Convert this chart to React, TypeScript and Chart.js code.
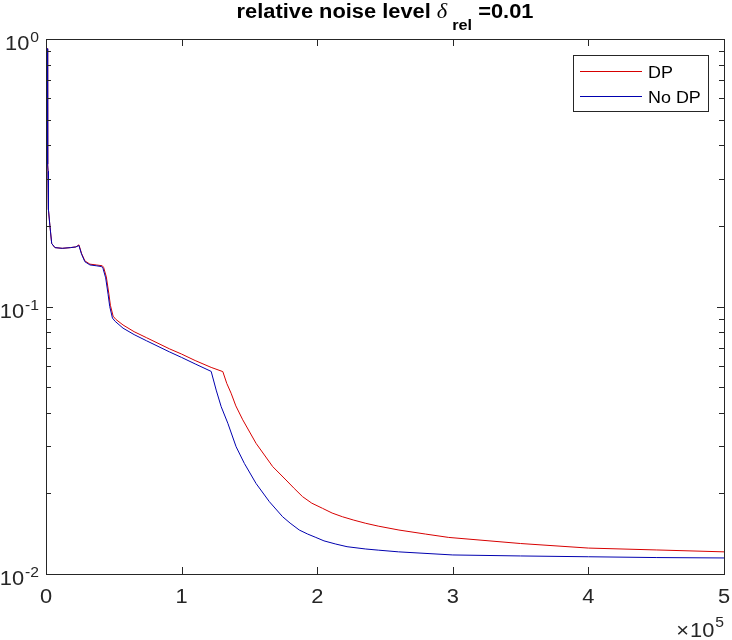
import { useEffect, useRef } from 'react';
import { Chart, registerables } from 'chart.js';

Chart.register(...registerables);

// ---- data ----
const seriesLabels = ['DP', 'No DP'];

const dpIter = [1100, 1200, 1500, 1700, 1900, 2900, 4200, 6600, 12000, 18000, 22000, 24300, 26200, 28700, 32400, 37000, 41500, 42500, 44500, 46300, 47500, 49500, 51500, 56800, 65000, 74000, 91200, 100000, 110000, 121800, 130400, 133300, 136500, 140000, 145100, 154900, 167200, 177000, 183000, 189200, 196000, 203900, 211000, 218600, 227000, 235800, 245000, 260300, 280000, 297000, 350000, 400000, 450000, 500000];
const dpErr = [0.92, 0.34, 0.32, 0.3, 0.23, 0.2, 0.172, 0.166, 0.165, 0.166, 0.167, 0.17, 0.158, 0.148, 0.144, 0.143, 0.142, 0.14, 0.129, 0.112, 0.101, 0.092, 0.0895, 0.0853, 0.0805, 0.0765, 0.0694, 0.0664, 0.0628, 0.0592, 0.0571, 0.0516, 0.0474, 0.0425, 0.0377, 0.0308, 0.0252, 0.02246, 0.0209, 0.01946, 0.0184, 0.0176, 0.0169, 0.01637, 0.0159, 0.01547, 0.0151, 0.0146, 0.0141, 0.0137, 0.013, 0.0125, 0.0123, 0.0121];

const noDpIter = [1100, 1200, 1500, 1700, 1900, 2900, 4200, 6600, 12000, 18000, 22000, 24300, 26200, 28700, 32400, 37000, 41000, 42000, 44000, 45800, 47000, 49000, 51000, 56800, 65000, 74000, 91200, 100000, 110000, 121800, 125500, 129200, 134100, 140200, 146300, 154900, 164700, 174500, 180000, 186800, 193000, 199000, 205000, 213700, 222000, 235800, 245000, 260000, 300000, 350000, 400000, 450000, 500000];
const noDpErr = [0.92, 0.34, 0.32, 0.3, 0.23, 0.2, 0.172, 0.166, 0.165, 0.166, 0.167, 0.169, 0.157, 0.147, 0.143, 0.142, 0.141, 0.139, 0.128, 0.111, 0.1, 0.0905, 0.088, 0.083, 0.0785, 0.0745, 0.0676, 0.0645, 0.061, 0.0572, 0.0487, 0.0422, 0.0366, 0.0299, 0.0259, 0.0218, 0.01864, 0.01637, 0.0155, 0.0146, 0.0141, 0.0137, 0.0133, 0.01294, 0.01265, 0.0124, 0.01228, 0.0121, 0.01178, 0.01168, 0.0116, 0.01152, 0.01148];

const xTicks = [0, 100000, 200000, 300000, 400000, 500000];
const xTickLabels = ['0', '1', '2', '3', '4', '5'];
const yMajorTicks = [1, 0.1, 0.01];
const yMajorExp = ['0', '-1', '-2'];
const yMinorTicks = [0.02, 0.03, 0.04, 0.05, 0.06, 0.07, 0.08, 0.09, 0.2, 0.3, 0.4, 0.5, 0.6, 0.7, 0.8, 0.9];
const xExponent = '5';

const RED = 'rgb(215,0,0)';
const BLUE = 'rgb(0,0,175)';
const AX = '#262626';
const SANS = '"Liberation Sans", Arial, Helvetica, sans-serif';
const SERIF = '"Liberation Serif", "Times New Roman", serif';
const SX = 1.12;

function measure(ctx: CanvasRenderingContext2D, text: string, font: string) {
  ctx.save();
  ctx.font = font;
  const w = ctx.measureText(text).width * SX;
  ctx.restore();
  return w;
}

function drawText(ctx: CanvasRenderingContext2D, text: string, x: number, y: number, font: string, color: string) {
  ctx.save();
  ctx.font = font;
  ctx.translate(x, y);
  ctx.scale(SX, 1);
  ctx.textAlign = 'left';
  ctx.textBaseline = 'alphabetic';
  ctx.fillStyle = color;
  ctx.fillText(text, 0, 0);
  ctx.restore();
}

const axesPlugin = {
  id: 'matlabAxes',
  afterDraw(chart: any) {
    const ctx: CanvasRenderingContext2D = chart.ctx;
    const { left, top, right, bottom } = chart.chartArea;
    const xs = chart.scales.x;
    const ys = chart.scales.y;
    ctx.save();
    ctx.strokeStyle = AX;
    ctx.lineWidth = 1;
    // box
    ctx.strokeRect(Math.round(left) + 0.5, Math.round(top) + 0.5, Math.round(right - left), Math.round(bottom - top));
    ctx.beginPath();
    // x ticks
    xTicks.forEach((v) => {
      const px = Math.round(xs.getPixelForValue(v)) + 0.5;
      ctx.moveTo(px, bottom);
      ctx.lineTo(px, bottom - 7);
      ctx.moveTo(px, top);
      ctx.lineTo(px, top + 7);
    });
    // y ticks
    yMajorTicks.forEach((v) => {
      const py = Math.round(ys.getPixelForValue(v)) + 0.5;
      ctx.moveTo(left, py);
      ctx.lineTo(left + 7, py);
      ctx.moveTo(right, py);
      ctx.lineTo(right - 7, py);
    });
    yMinorTicks.forEach((v) => {
      const py = Math.round(ys.getPixelForValue(v)) + 0.5;
      ctx.moveTo(left, py);
      ctx.lineTo(left + 5, py);
      ctx.moveTo(right, py);
      ctx.lineTo(right - 5, py);
    });
    ctx.stroke();

    const tickFont = `19.5px ${SANS}`;
    const supFont = `14px ${SANS}`;
    // x tick labels
    xTicks.forEach((v, i) => {
      const px = xs.getPixelForValue(v);
      const w = measure(ctx, xTickLabels[i], tickFont);
      drawText(ctx, xTickLabels[i], px - w / 2, bottom + 29, tickFont, AX);
    });
    // y tick labels 10^n
    yMajorTicks.forEach((v, i) => {
      const py = ys.getPixelForValue(v);
      const wSup = measure(ctx, yMajorExp[i], supFont);
      const wBase = measure(ctx, '10', tickFont);
      const xr = left - 7;
      drawText(ctx, yMajorExp[i], xr - wSup, py + 3, supFont, AX);
      drawText(ctx, '10', xr - wSup - wBase - 1, py + 11, tickFont, AX);
    });
    // x exponent  x10^5
    {
      const wSup = measure(ctx, xExponent, supFont);
      const wBase = measure(ctx, '10', tickFont);
      const wTimes = measure(ctx, '\u00d7', tickFont);
      const xr = right;
      drawText(ctx, xExponent, xr - wSup, bottom + 53, supFont, AX);
      drawText(ctx, '10', xr - wSup - wBase - 1, bottom + 63, tickFont, AX);
      drawText(ctx, '\u00d7', xr - wSup - wBase - wTimes - 2, bottom + 63, tickFont, AX);
    }

    // title
    {
      const tFont = `bold 19.5px ${SANS}`;
      const dFont = `italic 20px ${SERIF}`;
      const sFont = `bold 14.5px ${SANS}`;
      const p1 = 'relative noise level ';
      const p3 = ' =0.01';
      const w1 = measure(ctx, p1, tFont);
      const wd = measure(ctx, '\u03b4', dFont);
      const ws = measure(ctx, 'rel', sFont);
      const w3 = measure(ctx, p3, tFont);
      const gap = 5;
      const total = w1 + wd + gap + ws + w3;
      let x = (left + right) / 2 - total / 2;
      drawText(ctx, p1, x, 18, tFont, '#000');
      x += w1;
      drawText(ctx, '\u03b4', x, 18, dFont, '#000');
      x += wd + gap;
      drawText(ctx, 'rel', x, 30, sFont, '#000');
      x += ws;
      drawText(ctx, p3, x, 18, tFont, '#000');
    }

    // legend
    {
      const lx = 573.5, ly = 55.5, lw = 135, lh = 56;
      ctx.fillStyle = '#fff';
      ctx.fillRect(lx, ly, lw, lh);
      ctx.strokeStyle = AX;
      ctx.strokeRect(lx, ly, lw, lh);
      const colors = [RED, BLUE];
      const rows = [71.5, 96.5];
      const lFont = `16px ${SANS}`;
      seriesLabels.forEach((lab, i) => {
        ctx.strokeStyle = colors[i];
        ctx.beginPath();
        ctx.moveTo(580, rows[i]);
        ctx.lineTo(642, rows[i]);
        ctx.stroke();
        drawText(ctx, lab, 648, rows[i] + 6, lFont, '#000');
      });
    }
    ctx.restore();
  },
};

export default function App() {
  const ref = useRef<HTMLCanvasElement>(null);
  useEffect(() => {
    if (!ref.current) return;
    const chart = new Chart(ref.current, {
      type: 'line',
      data: {
        datasets: [
          {
            label: seriesLabels[0],
            data: dpIter.map((x, i) => ({ x, y: dpErr[i] })),
            borderColor: RED,
            backgroundColor: RED,
            borderWidth: 1,
            pointRadius: 0,
            tension: 0,
            fill: false,
            order: 1,
          },
          {
            label: seriesLabels[1],
            data: noDpIter.map((x, i) => ({ x, y: noDpErr[i] })),
            borderColor: BLUE,
            backgroundColor: BLUE,
            borderWidth: 1,
            pointRadius: 0,
            tension: 0,
            fill: false,
            order: 0,
          },
        ],
      },
      options: {
        animation: false,
        responsive: false,
        devicePixelRatio: 1,
        layout: { padding: { left: 46, top: 39, right: 8, bottom: 66 } },
        plugins: { legend: { display: false }, title: { display: false }, tooltip: { enabled: false } },
        events: [],
        scales: {
          x: { type: 'linear', min: 0, max: 500000, display: false },
          y: { type: 'logarithmic', min: 0.01, max: 1, display: false },
        },
      },
      plugins: [axesPlugin],
    });
    return () => chart.destroy();
  }, []);
  return (
    <canvas
      ref={ref}
      width={732}
      height={640}
      style={{ position: 'absolute', left: 0, top: 0, width: 732, height: 640, background: '#fff' }}
    />
  );
}
